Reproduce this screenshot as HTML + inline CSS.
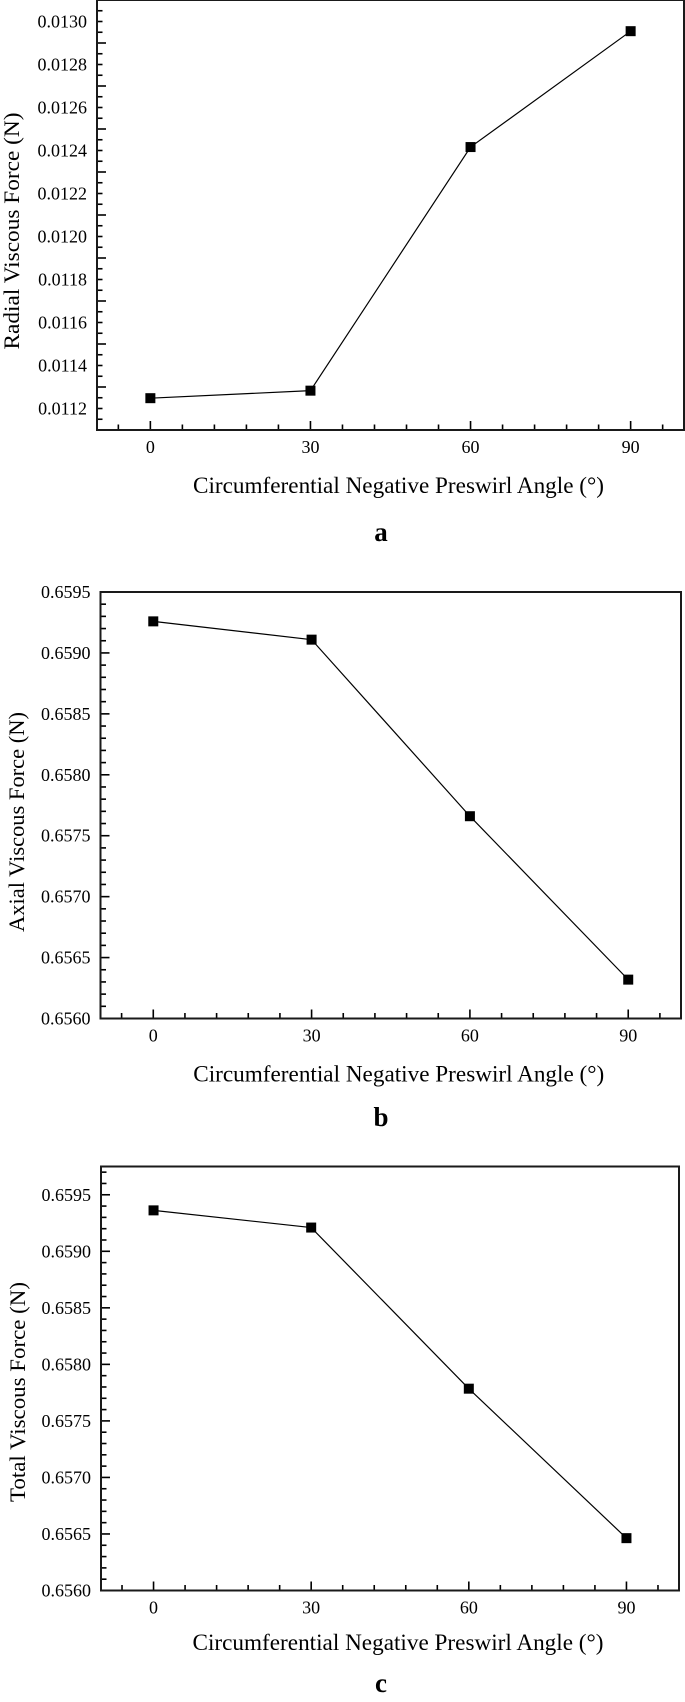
<!DOCTYPE html>
<html><head><meta charset="utf-8"><style>
html,body{margin:0;padding:0;background:#fff;}
svg{display:block;}
text{font-family:"Liberation Serif",serif;fill:#000;}
</style></head><body>
<svg id="fig" width="685" height="1702" viewBox="0 0 685 1702" xmlns="http://www.w3.org/2000/svg"></svg>
<script>
const angles = [0, 30, 60, 90];
const xTicks = [0, 30, 60, 90];
const radialValues = [0.011248, 0.011283, 0.012416, 0.012955];
const axialValues = [0.659259, 0.659109, 0.657660, 0.656319];
const totalValues = [0.659362, 0.659210, 0.657785, 0.656463];
const radialTicks = ["0.0112","0.0114","0.0116","0.0118","0.0120","0.0122","0.0124","0.0126","0.0128","0.0130"];
const axialTicks = ["0.6560","0.6565","0.6570","0.6575","0.6580","0.6585","0.6590","0.6595"];
const totalTicks = ["0.6560","0.6565","0.6570","0.6575","0.6580","0.6585","0.6590","0.6595"];

const NS = "http://www.w3.org/2000/svg";
const svg = document.getElementById('fig');
function mk(tag, attrs, parent){
  const e = document.createElementNS(NS, tag);
  for (const k in attrs) e.setAttribute(k, attrs[k]);
  (parent||svg).appendChild(e);
  return e;
}

function chart(cfg){
  const g = mk('g', {});
  
  
  const {L,R,T,B,ymin,ymax,ystepMinor} = cfg;
  const xs = v => L + (v - (-10)) / 110 * (R - L);
  const ys = v => B - (v - ymin) / (ymax - ymin) * (B - T);
  // minor x ticks every 6 deg
  for (let v = -6; v <= 96; v += 6) {
    const major = xTicks.includes(v);
    const t = mk('line', {x1: xs(v), x2: xs(v), y1: B, y2: B - (major ? 9 : 5.5), stroke: '#000', 'stroke-width': 1.6}, g);
    
    
  }
  // y ticks
  const n = Math.round((ymax - ymin) / ystepMinor);
  for (let i = 0; i <= n; i++) {
    const v = ymin + i * ystepMinor;
    const yy = ys(v);
    if (yy < T + 0.5) continue;
    const major = (i % cfg.minorPer) === 0;
    const t = mk('line', {x1: L, x2: L + (major ? 9 : 5.5), y1: yy, y2: yy, stroke: '#000', 'stroke-width': 1.6}, g);
    
    
  }
  // frame
  const f = mk('rect', {x: L, y: T, width: R - L, height: B - T, fill: 'none', stroke: '#1a1a1a', 'stroke-width': 2}, g);
  
  
  // y tick labels
  cfg.ticks.forEach(s => {
    const t = mk('text', {x: L - 10, y: ys(parseFloat(s)) + 6, 'text-anchor': 'end', 'font-size': 18}, g);
    t.textContent = s;
    
    
  });
  // x tick labels
  xTicks.forEach(v => {
    const t = mk('text', {x: xs(v), y: B + 23, 'text-anchor': 'middle', 'font-size': 18}, g);
    t.textContent = String(v);
    
    
  });
  // line
  const pts = angles.map((a, i) => xs(a) + ',' + ys(cfg.values[i])).join(' ');
  const pl = mk('polyline', {points: pts, fill: 'none', stroke: '#000', 'stroke-width': 1.2}, g);
  
  
  angles.forEach((a, i) => {
    const m = mk('rect', {x: xs(a) - 5, y: ys(cfg.values[i]) - 5, width: 10, height: 10, fill: '#000'}, g);
    
    
  });
  // titles
  const xt = mk('text', {x: (L + R) / 2 + 8, y: cfg.xTitleY, 'text-anchor': 'middle', 'font-size': 23, textLength: 411, lengthAdjust: 'spacingAndGlyphs'}, g);
  xt.textContent = 'Circumferential Negative Preswirl Angle (\u00B0)';
  
  
  const yt = mk('text', {x: 0, y: 0, 'text-anchor': 'middle', 'font-size': 22, textLength: cfg.yTitleLen, lengthAdjust: 'spacingAndGlyphs', transform: 'translate(' + cfg.yTitleX + ',' + cfg.yTitleC + ') rotate(-90)'}, g);
  yt.textContent = cfg.yTitle;
  
  
  const pt = mk('text', {x: 381, y: cfg.panelY, 'text-anchor': 'middle', 'font-size': 27, 'font-weight': 'bold'}, g);
  pt.textContent = cfg.panel;
  
  
}

chart({name: 'radial-chart', L: 97, R: 684, T: 0, B: 430, ymin: 0.0111, ymax: 0.0131, ystepMinor: 0.00005, minorPer: 4,
  values: radialValues, ticks: radialTicks, xTitleY: 493, yTitle: 'Radial Viscous Force (N)', yTitleX: 19, yTitleC: 231, yTitleLen: 237, panel: 'a', panelY: 541});
chart({name: 'axial-chart', L: 100.5, R: 681, T: 592, B: 1018.5, ymin: 0.6560, ymax: 0.6595, ystepMinor: 0.0001, minorPer: 5,
  values: axialValues, ticks: axialTicks, xTitleY: 1081.5, yTitle: 'Axial Viscous Force (N)', yTitleX: 24, yTitleC: 822, yTitleLen: 220, panel: 'b', panelY: 1126});
chart({name: 'total-chart', L: 101, R: 679, T: 1166.5, B: 1590.5, ymin: 0.6560, ymax: 0.65975, ystepMinor: 0.0001, minorPer: 5,
  values: totalValues, ticks: totalTicks, xTitleY: 1650, yTitle: 'Total Viscous Force (N)', yTitleX: 25, yTitleC: 1392, yTitleLen: 220, panel: 'c', panelY: 1692});
</script>
</body></html>
